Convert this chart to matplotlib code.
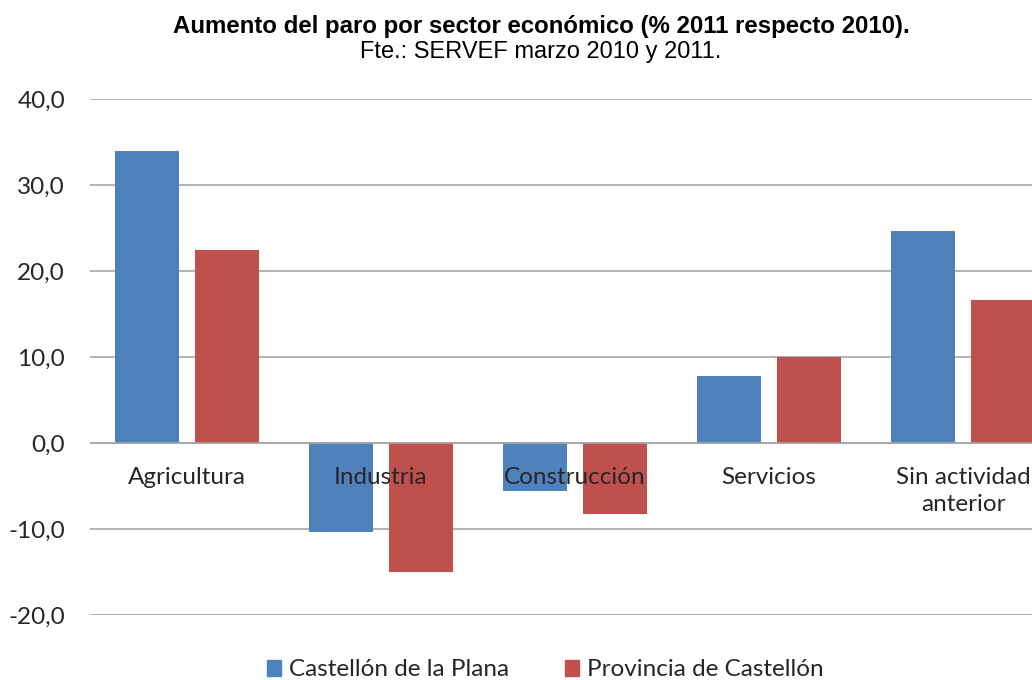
import matplotlib
matplotlib.use("Agg")
import matplotlib.pyplot as plt
import numpy as np
from matplotlib.patches import Patch

sectores = ["Agricultura", "Industria", "Construcción", "Servicios", "Sin actividad\nanterior"]
castellon_plana = [34.0, -10.3, -5.6, 7.8, 24.6]
provincia = [22.4, -15.0, -8.3, 10.0, 16.6]
series = ["Castellón de la Plana", "Provincia de Castellón"]
colores = ["#4F81BD", "#C0504D"]

plt.rcParams['font.family'] = ['Lato', 'DejaVu Sans']

W, H = 1032, 680
fig = plt.figure(figsize=(W / 100, H / 100), dpi=100)
ax = fig.add_axes([90 / W, (H - 615) / H, 970 / W, 516 / H])

x = np.arange(len(sectores))
ancho = 0.33
ax.bar(x - 0.205, castellon_plana, ancho, color=colores[0], zorder=3)
ax.bar(x + 0.205, provincia, ancho, color=colores[1], zorder=3)

ax.set_xlim(-0.5, 4.5)
ax.set_ylim(-20, 40)
ax.set_yticks(range(-20, 41, 10))
ax.set_yticklabels([f"{v:.1f}".replace(".", ",") for v in range(-20, 41, 10)],
                   fontsize=17.5, color="#262626")
ax.grid(axis="y", color="#a6a6a6", linewidth=1.2, zorder=0)
ax.axhline(0, color="#a6a6a6", linewidth=1.2, zorder=4)

for s in ["top", "right", "left", "bottom"]:
    ax.spines[s].set_visible(False)
ax.tick_params(axis="both", length=0)
ax.tick_params(axis="y", pad=18)
ax.set_xticks([])

# etiquetas de categoría justo debajo de la línea del cero, por encima de las barras
for i, nombre in enumerate(sectores):
    ax.annotate(nombre, xy=(i, 0), xytext=(0, -17), textcoords="offset points",
                ha="center", va="top", fontsize=17.5, color="#262626",
                linespacing=1.35, zorder=6)

fig.text(541 / W, 1 - 27 / H, "Aumento del paro por sector económico (% 2011 respecto 2010).",
         ha="center", va="center", fontsize=17.3, fontweight="bold",
         family=["Liberation Sans", "DejaVu Sans"])
fig.text(541 / W, 1 - 52 / H, "Fte.: SERVEF marzo 2010 y 2011.",
         ha="center", va="center", fontsize=17, family=["Liberation Sans", "DejaVu Sans"])

handles = [Patch(color=c, label=l) for c, l in zip(colores, series)]
fig.legend(handles=handles, loc="center", bbox_to_anchor=(545 / W, 1 - 670 / H), ncol=2,
           frameon=False, fontsize=17.5, handlelength=0.6, handleheight=0.6,
           handletextpad=0.3, columnspacing=2.3, labelcolor="#262626")

fig.savefig("out.png", dpi=100)
